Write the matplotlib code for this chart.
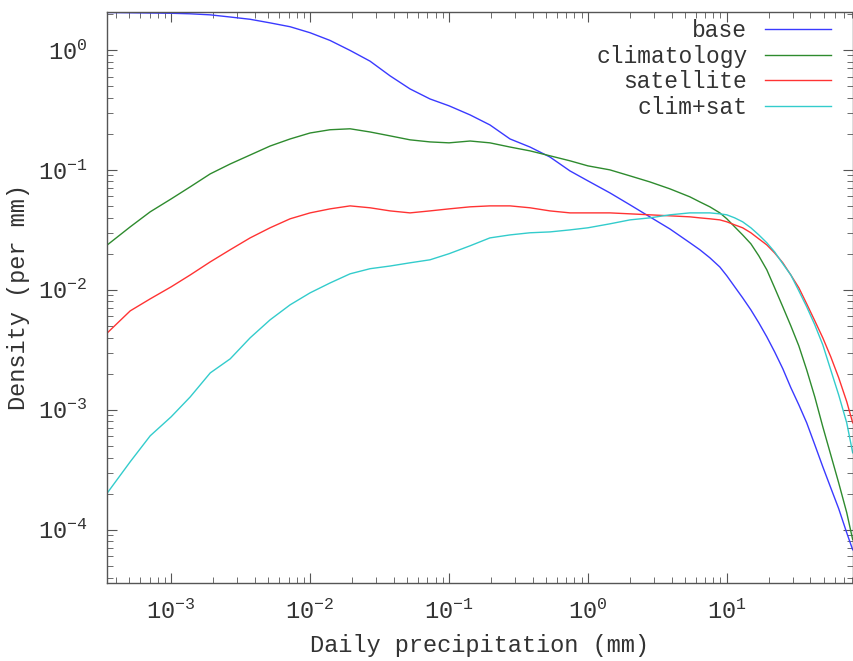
import matplotlib
matplotlib.use("Agg")
import matplotlib.pyplot as plt
from matplotlib.ticker import LogLocator, NullFormatter

# daily precipitation (mm), shared by all four curves
precip = [3.47e-4, 5.07e-4, 7.06e-4, 1.0e-3, 1.37e-3, 1.91e-3, 2.66e-3, 3.70e-3,
          5.15e-3, 7.18e-3, 0.01, 0.0139, 0.0194, 0.0270, 0.0377, 0.0524, 0.0730,
          0.1, 0.142, 0.197, 0.275, 0.383, 0.533, 0.743, 1.0, 1.44, 2.01, 2.79,
          3.89, 5.42, 6.39, 7.55, 8.91, 10.0, 11.4, 13.0, 14.9, 17.0, 19.4, 22.1,
          25.3, 28.9, 33.0, 37.6, 43.0, 49.1, 56.0, 63.9, 73.0, 80.6]

base = [2.05, 2.04, 2.03, 2.02, 2.0, 1.96, 1.88, 1.80, 1.68, 1.56, 1.39, 1.20,
        0.99, 0.806, 0.607, 0.473, 0.390, 0.342, 0.287, 0.237, 0.181, 0.155,
        0.128, 0.098, 0.081, 0.0643, 0.0511, 0.0406, 0.0322, 0.0247, 0.0216,
        0.0185, 0.0155, 0.0131, 0.0106, 0.00858, 0.00681, 0.00531, 0.00406,
        0.00304, 0.00220, 0.00153, 0.00110, 7.79e-4, 5.11e-4, 3.35e-4, 2.24e-4,
        1.50e-4, 9.44e-5, 6.81e-5]

climatology = [0.0237, 0.0335, 0.0447, 0.0573, 0.0722, 0.0926, 0.112, 0.133,
               0.158, 0.181, 0.203, 0.216, 0.220, 0.207, 0.192, 0.178, 0.171,
               0.168, 0.174, 0.168, 0.155, 0.144, 0.131, 0.119, 0.108, 0.100,
               0.0891, 0.0794, 0.0695, 0.0596, 0.0541, 0.0492, 0.0438, 0.0391,
               0.0335, 0.0287, 0.0242, 0.0192, 0.0147, 0.0104, 0.00722, 0.00501,
               0.00341, 0.00215, 0.00128, 7.22e-4, 4.22e-4, 2.46e-4, 1.39e-4,
               8.26e-5]

satellite = [0.00438, 0.00668, 0.00841, 0.0106, 0.0133, 0.0171, 0.0216, 0.0271,
             0.0329, 0.0391, 0.0438, 0.0473, 0.0501, 0.0483, 0.0455, 0.0438,
             0.0455, 0.0473, 0.0492, 0.0501, 0.0501, 0.0483, 0.0455, 0.0438,
             0.0438, 0.0438, 0.0430, 0.0422, 0.0414, 0.0406, 0.0398, 0.0391,
             0.0383, 0.0369, 0.0348, 0.0329, 0.0299, 0.0266, 0.0237, 0.0203,
             0.0168, 0.0133, 0.0104, 0.00764, 0.00552, 0.00398, 0.00277,
             0.00185, 0.00117, 7.79e-4]

clim_sat = [2.03e-4, 3.69e-4, 6.07e-4, 8.75e-4, 0.00128, 0.00203, 0.00266, 0.00398,
            0.00562, 0.0075, 0.00944, 0.0114, 0.0136, 0.0150, 0.0158, 0.0168,
            0.0178, 0.0200, 0.0233, 0.0271, 0.0287, 0.0299, 0.0304, 0.0316,
            0.0329, 0.0355, 0.0383, 0.0398, 0.0422, 0.0438, 0.0438, 0.0438,
            0.0430, 0.0422, 0.0398, 0.0369, 0.0329, 0.0287, 0.0247, 0.0207,
            0.0165, 0.0133, 0.00981, 0.00722, 0.00511, 0.00348, 0.00215,
            0.00133, 7.79e-4, 4.38e-4]

labels = ["base", "climatology", "satellite", "clim+sat"]
colors = ["#3a3aff", "#2e8b2e", "#ff3333", "#33cccc"]

plt.rcParams['font.family'] = ['Liberation Mono', 'DejaVu Sans Mono']
plt.rcParams['mathtext.fontset'] = 'custom'
plt.rcParams['mathtext.rm'] = 'Liberation Mono'
plt.rcParams['mathtext.it'] = 'Liberation Mono'

fig = plt.figure(figsize=(8.54, 6.61), dpi=100)
ax = fig.add_axes([107 / 854, 1 - 583 / 661, (853 - 107) / 854, (583 - 12) / 661])

for ys, lab, col in zip([base, climatology, satellite, clim_sat], labels, colors):
    ax.plot(precip, ys, color=col, lw=1.0, label=lab)

ax.set_xscale('log')
ax.set_yscale('log')
ax.set_xlim(3.45e-4, 81)
ax.set_ylim(3.6e-5, 2.07)

ax.xaxis.set_major_locator(LogLocator(base=10, numticks=20))
ax.yaxis.set_major_locator(LogLocator(base=10, numticks=20))
ax.xaxis.set_minor_locator(LogLocator(base=10, subs=range(2, 10), numticks=20))
ax.yaxis.set_minor_locator(LogLocator(base=10, subs=range(2, 10), numticks=20))
ax.xaxis.set_minor_formatter(NullFormatter())
ax.yaxis.set_minor_formatter(NullFormatter())

gray = '#555555'
for s in ax.spines.values():
    s.set_color(gray)
    s.set_linewidth(1.0)
ax.tick_params(which='both', direction='in', top=True, right=True, color=gray,
               labelcolor='#333333', labelsize=17)
ax.tick_params(axis='x', which='major', length=7, pad=12)
ax.tick_params(axis='y', which='major', length=7, pad=14)
ax.tick_params(which='minor', length=4)

ax.set_xlabel('Daily precipitation (mm)', fontsize=17, color='#333333', labelpad=7)
ax.set_ylabel('Density (per mm)', fontsize=17, color='#333333', labelpad=6)

leg = ax.legend(loc='upper right', bbox_to_anchor=(831 / 854, 1 - 19 / 661),
                bbox_transform=fig.transFigure, frameon=False, markerfirst=False,
                fontsize=16.5, handlelength=2.9, handletextpad=0.75,
                labelspacing=0.12, borderpad=0, borderaxespad=0)
for t in leg.get_texts():
    t.set_color('#333333')

fig.savefig('out.png', dpi=100)
